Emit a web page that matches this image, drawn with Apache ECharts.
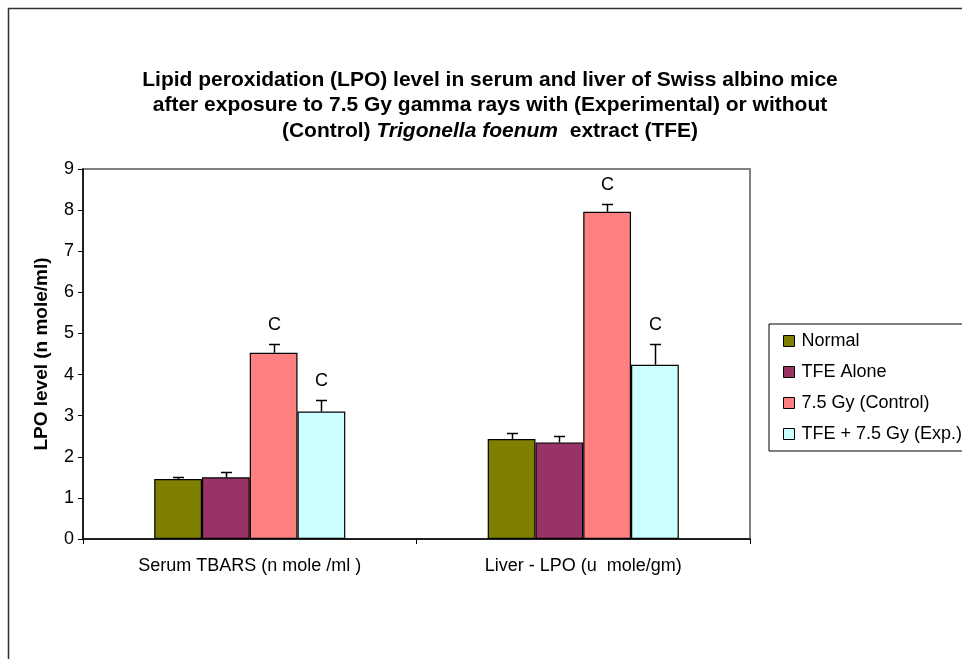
<!DOCTYPE html>
<html>
<head>
<meta charset="utf-8">
<style>
    html, body { margin: 0; padding: 0; background: #fff; }
    #chart-box { width: 962px; height: 659px; }
</style>
<script src="https://cdn.jsdelivr.net/npm/echarts@6/dist/echarts.min.js"></script>
</head>
<body>
<div id="chart-box"></div>
<script>
// data
var categories = ['Serum TBARS (n mole /ml )', 'Liver - LPO (u  mole/gm)'];
var groupNames = ['Normal', 'TFE Alone', '7.5 Gy (Control)', 'TFE + 7.5 Gy (Exp.)'];
var groupColors = ['#808000', '#993366', '#ff8080', '#ccffff'];
var normalVals = [1.46, 2.43];
var tfeVals = [1.50, 2.35];
var gyVals = [4.53, 7.96];
var expVals = [3.10, 4.24];
var normalErr = [0.04, 0.14];
var tfeErr = [0.14, 0.15];
var gyErr = [0.22, 0.19];
var expErr = [0.29, 0.51];
// significance marks on top of the error bars
var gyMark = ['C', 'C'];
var expMark = ['C', 'C'];

var yTicks = [0, 1, 2, 3, 4, 5, 6, 7, 8, 9];

var FONT = 'Arial, "Liberation Sans", sans-serif';
var CAT_GAP = 0.427;

var allVals = [normalVals, tfeVals, gyVals, expVals];
var allErr = [normalErr, tfeErr, gyErr, expErr];
var allMarks = [[], [], gyMark, expMark];

var errData = [];
for (var g = 0; g < 4; g++) {
    for (var c = 0; c < categories.length; c++) {
        errData.push([c, g, allVals[g][c], allErr[g][c], allMarks[g][c] || '']);
    }
}

function renderErr(params, api) {
    var cat = api.value(0);
    var grp = api.value(1);
    var val = api.value(2);
    var err = api.value(3);
    var mark = errData[params.dataIndex][4];
    var bandW = api.size([1, 0])[0];
    var barW = bandW * (1 - CAT_GAP) / 4;
    var center = api.coord([cat, val]);
    var x = Math.round(center[0] + (grp - 1.5) * barW) + 0.5;
    var yBase = center[1];
    var yTop = Math.round(api.coord([cat, val + err])[1]) + 0.5;
    var children = [{
        type: 'line',
        shape: { x1: x, y1: yBase, x2: x, y2: yTop },
        style: { stroke: '#000', lineWidth: 1.5 }
    }, {
        type: 'line',
        shape: { x1: x - 5.5, y1: yTop, x2: x + 5.5, y2: yTop },
        style: { stroke: '#000', lineWidth: 1.5 }
    }];
    if (mark) {
        children.push({
            type: 'text',
            style: {
                text: mark, x: x, y: yTop - 10,
                align: 'center', verticalAlign: 'bottom',
                font: '18px ' + FONT, fill: '#000'
            }
        });
    }
    return { type: 'group', children: children };
}

var series = [];
for (var i = 0; i < 4; i++) {
    series.push({
        name: groupNames[i],
        type: 'bar',
        barGap: 0,
        barCategoryGap: (CAT_GAP * 100) + '%',
        animation: false,
        itemStyle: { color: groupColors[i], borderColor: '#000', borderWidth: 1.2 },
        emphasis: { disabled: true },
        data: allVals[i]
    });
}
series.push({
    name: 'err',
    type: 'custom',
    animation: false,
    renderItem: renderErr,
    encode: { x: 0, y: 2 },
    z: 5,
    data: errData
});

var option = {
    backgroundColor: '#fff',
    animation: false,
    title: {
        left: 485,
        top: 62,
        textAlign: 'center',
        text: '{b|Lipid peroxidation (LPO) level in serum and liver of Swiss albino mice}\n' +
            '{b|after exposure to 7.5 Gy gamma rays with (Experimental) or without}\n' +
            '{b|(Control) }{i|Trigonella foenum}{b|  extract (TFE)}',
        textStyle: {
            rich: {
                b: { fontFamily: FONT, fontSize: 21, fontWeight: 'bold', color: '#000', lineHeight: 25.5 },
                i: { fontFamily: FONT, fontSize: 21, fontWeight: 'bold', fontStyle: 'italic', color: '#000', lineHeight: 25.5 }
            }
        }
    },
    legend: {
        orient: 'vertical',
        left: 769,
        top: 324,
        data: groupNames,
        icon: 'rect',
        itemWidth: 11,
        itemHeight: 11,
        itemGap: 13,
        padding: [8, 40, 8, 14],
        borderColor: '#000',
        borderWidth: 1,
        backgroundColor: '#fff',
        selectedMode: false,
        itemStyle: { borderColor: '#000', borderWidth: 1 },
        textStyle: { fontFamily: FONT, fontSize: 18, color: '#000', padding: [0, 0, 0, 2] }
    },
    grid: {
        left: 83,
        right: 212,
        top: 169,
        bottom: 120,
        show: true,
        borderColor: '#808080',
        borderWidth: 2,
        containLabel: false
    },
    xAxis: {
        type: 'category',
        data: categories,
        axisLine: { lineStyle: { color: '#000', width: 1.5 } },
        axisTick: { show: true, length: 5, lineStyle: { color: '#000' } },
        axisLabel: { margin: 18, fontFamily: FONT, fontSize: 18, color: '#000' },
        splitLine: { show: false }
    },
    yAxis: {
        type: 'value',
        min: 0,
        max: 9,
        interval: 1,
        name: 'LPO level (n mole/ml)',
        nameLocation: 'middle',
        nameGap: 32,
        nameTextStyle: { fontFamily: FONT, fontSize: 19, fontWeight: 'bold', color: '#000' },
        axisLine: { show: true, lineStyle: { color: '#000', width: 1.5 } },
        axisTick: { show: true, length: 5, inside: false, lineStyle: { color: '#000' } },
        axisLabel: {
            margin: 9,
            fontFamily: FONT,
            fontSize: 18,
            color: '#000',
            formatter: function (v) { return yTicks.indexOf(v) >= 0 ? String(v) : ''; }
        },
        splitLine: { show: false }
    },
    graphic: [{
        type: 'rect',
        shape: { x: 8.5, y: 8.5, width: 980, height: 700 },
        style: { fill: 'none', stroke: '#303030', lineWidth: 1.5 },
        silent: true,
        z: -1
    }],
    series: series
};

var myChart = echarts.init(document.getElementById('chart-box'), null, { renderer: 'canvas' });
myChart.setOption(option);
</script>
</body>
</html>
